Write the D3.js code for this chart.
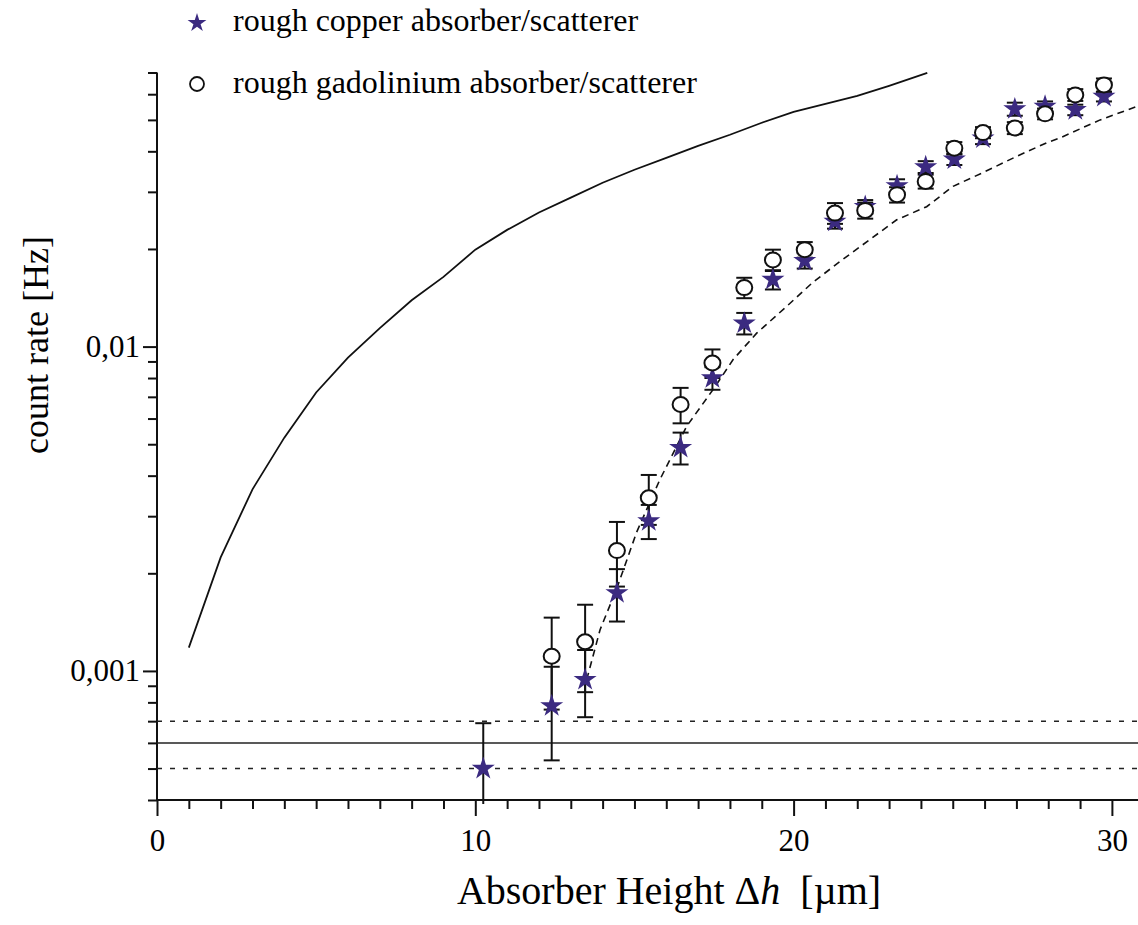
<!DOCTYPE html>
<html>
<head>
<meta charset="utf-8">
<script src="https://cdn.jsdelivr.net/npm/d3@7"></script>
<style>
	body { margin: 0; background: #fff; }
	text { font-family: 'Liberation Serif', 'DejaVu Serif', serif; fill: #000; }
</style>
</head>
<body>
<script>
const width = 1138
const height = 925

// measured points
const copperHeight = [10.25, 12.4, 13.45, 14.45, 15.45, 16.45, 17.45, 18.45, 19.35, 20.35, 21.3, 22.25, 23.25, 24.15, 25.05, 25.95, 26.95, 27.9, 28.85, 29.75]
const copperRate = [0.0005, 0.00078, 0.00094, 0.00174, 0.0029, 0.00488, 0.008, 0.0118, 0.0161, 0.0184, 0.0243, 0.027, 0.0313, 0.0358, 0.0378, 0.0439, 0.054, 0.055, 0.0537, 0.059]
const copperErr = [0.00019, 0.00025, 0.00022, 0.00032, 0.00035, 0.00055, 0.00064, 0.0009, 0.0011, 0.001, 0.0012, 0.0013, 0.0015, 0.0015, 0.0015, 0.0018, 0.0025, 0.002, 0.002, 0.002]

const gdHeight = [12.4, 13.45, 14.45, 15.45, 16.45, 17.45, 18.45, 19.35, 20.35, 21.3, 22.25, 23.25, 24.15, 25.05, 25.95, 26.95, 27.9, 28.85, 29.75]
const gdRate = [0.00111, 0.00123, 0.00235, 0.00342, 0.00663, 0.0089, 0.0152, 0.0185, 0.0199, 0.0258, 0.0263, 0.0294, 0.0323, 0.0409, 0.0457, 0.0472, 0.0522, 0.0597, 0.0641]
const gdErr = [0.00035, 0.00037, 0.00053, 0.0006, 0.00083, 0.0009, 0.0011, 0.0014, 0.0011, 0.0019, 0.0015, 0.0016, 0.0016, 0.0018, 0.0018, 0.002, 0.002, 0.0025, 0.003]

// upper solid curve
const solidHeight = [1, 2, 3, 4, 5, 6, 7, 8, 9, 10, 11, 12, 13, 14, 15, 16, 17, 18, 19, 20, 21, 22, 23, 24.2]
const solidRate = [0.00118, 0.00224, 0.00363, 0.00524, 0.00722, 0.00925, 0.0114, 0.0139, 0.0164, 0.0199, 0.0229, 0.0259, 0.0288, 0.032, 0.0351, 0.0382, 0.0416, 0.045, 0.049, 0.0529, 0.056, 0.0593, 0.0637, 0.0698]

// dashed curve
const dashHeight = [13.5, 13.92, 14.44, 15.07, 15.8, 16.64, 17.47, 18.1, 18.84, 19.78, 20.61, 21.46, 22.4, 23.24, 24.18, 25.01, 25.95, 27.01, 27.95, 28.37, 29.63, 30.78]
const dashRate = [0.00094, 0.00134, 0.00179, 0.00268, 0.00389, 0.00568, 0.00737, 0.00912, 0.011, 0.0133, 0.0158, 0.0183, 0.0214, 0.0246, 0.027, 0.0312, 0.0344, 0.0386, 0.0425, 0.044, 0.05, 0.055]

// background level and its band
const bgLevel = 0.0006
const bgBand = [0.0005, 0.0007]

const xTicksMajor = [0, 10, 20, 30]
const yTicksMajor = [0.001, 0.01]
const yTickLabels = ['0,001', '0,01']

const legendLabels = ['rough copper absorber/scatterer', 'rough gadolinium absorber/scatterer']

const xDomain = [0, 30.82]
const yDomain = [0.0004, 0.07]

const xScale = d3.scaleLinear()
	.domain(xDomain)
	.range([157, 1138])

const yScale = d3.scaleLog()
	.domain(yDomain)
	.range([800, 72.5])

const svg = d3.select('body')
	.append('svg')
	.attr('width', width)
	.attr('height', height)

const purple = '#3b2a80'

// x axis
const xMinor = d3.range(0, 31, 1).filter(d => !xTicksMajor.includes(d))

const xAxisMinor = d3.axisBottom(xScale)
	.tickValues(xMinor)
	.tickSize(9)
	.tickFormat('')

const xAxisMajor = d3.axisBottom(xScale)
	.tickValues(xTicksMajor)
	.tickSize(16)
	.tickPadding(13)
	.tickFormat(d => d)

svg.append('g')
	.attr('transform', `translate(0,${yScale(yDomain[0])})`)
	.call(xAxisMinor)
	.call(g => g.select('.domain').remove())

const gx = svg.append('g')
	.attr('transform', `translate(0,${yScale(yDomain[0])})`)
	.call(xAxisMajor)

gx.select('.domain')
	.attr('d', `M${xScale(0)},0H${width}`)

// y axis
const yMinor = []
;[0.0001, 0.001, 0.01].forEach(dec => {
	for (let k = 2; k <= 9; k++) {
		const v = +(dec * k).toPrecision(3)
		if (v >= yDomain[0] && v <= yDomain[1] + 1e-9) yMinor.push(v)
	}
})

const yAxisMinor = d3.axisLeft(yScale)
	.tickValues(yMinor)
	.tickSize(9)
	.tickFormat('')

const yAxisMajor = d3.axisLeft(yScale)
	.tickValues(yTicksMajor)
	.tickSize(14)
	.tickPadding(3)
	.tickFormat((d, i) => yTickLabels[i])

svg.append('g')
	.attr('transform', `translate(${xScale(0)},0)`)
	.call(yAxisMinor)
	.call(g => g.select('.domain').remove())

const gy = svg.append('g')
	.attr('transform', `translate(${xScale(0)},0)`)
	.call(yAxisMajor)

gy.select('.domain')
	.attr('d', `M0,${yScale(yDomain[1])}V${yScale(yDomain[0])}`)

svg.selectAll('.tick line, .domain')
	.attr('stroke', '#111')
	.attr('stroke-width', 2)

svg.selectAll('.tick text')
	.attr('font-size', 31)
	.attr('fill', '#000')

// background lines
svg.append('line')
	.attr('x1', xScale(0))
	.attr('x2', width)
	.attr('y1', yScale(bgLevel))
	.attr('y2', yScale(bgLevel))
	.attr('stroke', '#222')
	.attr('stroke-width', 1.5)

svg.selectAll('.band')
	.data(bgBand)
	.enter()
	.append('line')
	.attr('class', 'band')
	.attr('x1', xScale(0))
	.attr('x2', width)
	.attr('y1', d => yScale(d))
	.attr('y2', d => yScale(d))
	.attr('stroke', '#222')
	.attr('stroke-width', 1.5)
	.attr('stroke-dasharray', '5,8')

// curves
const lineMaker = d3.line()
	.x(d => xScale(d[0]))
	.y(d => yScale(d[1]))

svg.append('path')
	.attr('d', lineMaker(d3.zip(solidHeight, solidRate)))
	.attr('fill', 'none')
	.attr('stroke', '#111')
	.attr('stroke-width', 1.8)

svg.append('path')
	.attr('d', lineMaker(d3.zip(dashHeight, dashRate)))
	.attr('fill', 'none')
	.attr('stroke', '#111')
	.attr('stroke-width', 1.6)
	.attr('stroke-dasharray', '7,5')

// error bars
const capW = 8
const drawErrors = (xs, vs, es) => {
	const g = svg.append('g')
		.attr('stroke', '#111')
		.attr('stroke-width', 2)
	xs.forEach((x, i) => {
		const lo = vs[i] - es[i]
		const hi = vs[i] + es[i]
		const px = xScale(x)
		const clipped = lo < yDomain[0]
		const yLo = clipped ? yScale(yDomain[0]) + 4 : yScale(lo)
		g.append('line')
			.attr('x1', px).attr('x2', px)
			.attr('y1', yScale(hi)).attr('y2', yLo)
		g.append('line')
			.attr('x1', px - capW).attr('x2', px + capW)
			.attr('y1', yScale(hi)).attr('y2', yScale(hi))
		if (!clipped) {
			g.append('line')
				.attr('x1', px - capW).attr('x2', px + capW)
				.attr('y1', yLo).attr('y2', yLo)
		}
	})
}

drawErrors(copperHeight, copperRate, copperErr)
drawErrors(gdHeight, gdRate, gdErr)

const star = d3.symbol().type(d3.symbolStar).size(165)

svg.append('g')
	.selectAll('path')
	.data(d3.zip(copperHeight, copperRate))
	.enter()
	.append('path')
	.attr('d', star)
	.attr('transform', d => `translate(${xScale(d[0])},${yScale(d[1])})`)
	.attr('fill', purple)

svg.append('g')
	.selectAll('ellipse')
	.data(d3.zip(gdHeight, gdRate))
	.enter()
	.append('ellipse')
	.attr('cx', d => xScale(d[0]))
	.attr('cy', d => yScale(d[1]))
	.attr('rx', 8)
	.attr('ry', 7.5)
	.attr('fill', '#fff')
	.attr('stroke', '#111')
	.attr('stroke-width', 2)

// legend
const legend = svg.append('g')

legend.append('path')
	.attr('d', d3.symbol().type(d3.symbolStar).size(110))
	.attr('transform', 'translate(197,23)')
	.attr('fill', purple)

legend.append('circle')
	.attr('cx', 197)
	.attr('cy', 84)
	.attr('r', 7)
	.attr('fill', '#fff')
	.attr('stroke', '#111')
	.attr('stroke-width', 1.8)

legend.selectAll('text')
	.data(legendLabels)
	.enter()
	.append('text')
	.attr('x', 233)
	.attr('y', (d, i) => 31 + i * 62)
	.attr('font-size', 32)
	.text(d => d)

// axis titles
svg.append('text')
	.attr('transform', 'translate(48,345) rotate(-90)')
	.attr('text-anchor', 'middle')
	.attr('font-size', 36)
	.text('count rate [Hz]')

const xt = svg.append('text')
	.attr('x', 669)
	.attr('y', 904)
	.attr('text-anchor', 'middle')
	.attr('font-size', 40)

xt.append('tspan').text('Absorber Height \u0394')
xt.append('tspan').attr('font-style', 'italic').text('h')
xt.append('tspan').text('\u00a0 [\u00b5m]')
</script>
</body>
</html>
